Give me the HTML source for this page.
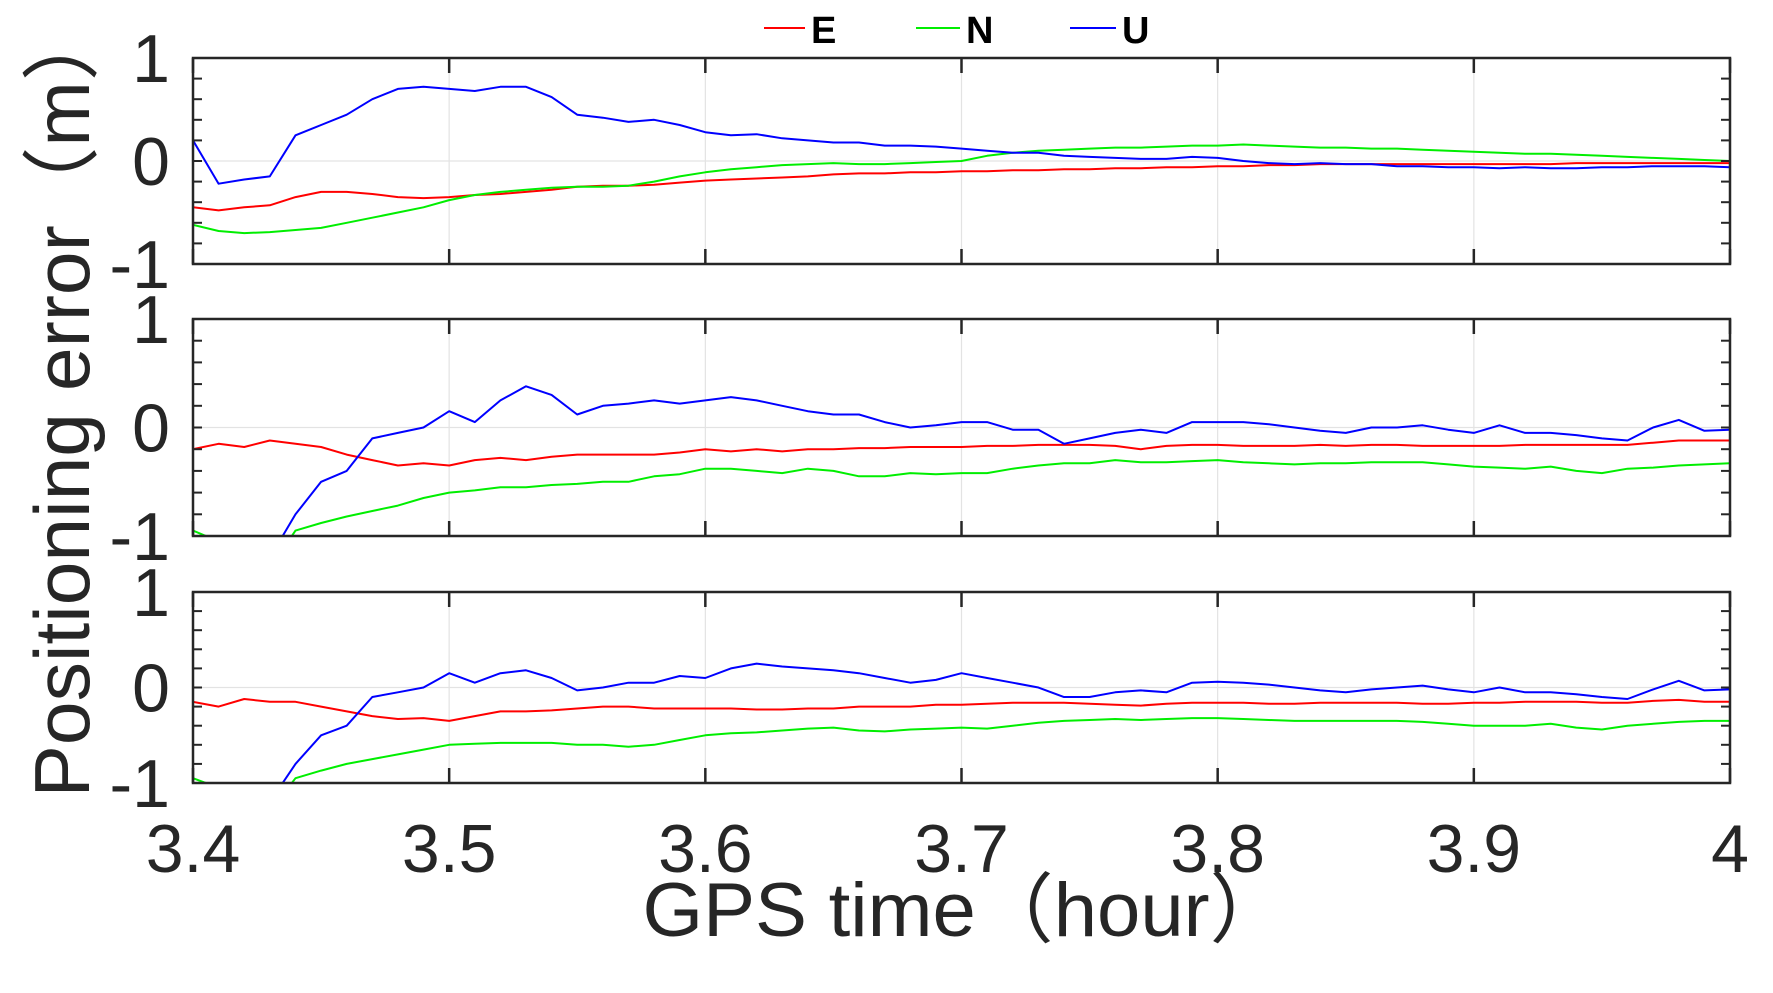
<!DOCTYPE html>
<html><head><meta charset="utf-8">
<style>
html,body{margin:0;padding:0;background:#fff;}
svg{display:block;font-family:"Liberation Sans","Noto Sans CJK SC",sans-serif;}
</style></head>
<body>
<svg id="chart" width="1773" height="993" viewBox="0 0 1773 993" xmlns="http://www.w3.org/2000/svg">
<g id="legend">
  <g><line x1="764" y1="28" x2="805" y2="28" stroke="#ff0000" stroke-width="2"/><text x="811" y="43" font-size="38" font-weight="bold" fill="#000">E</text></g>
  <g><line x1="916" y1="28" x2="960" y2="28" stroke="#00ee00" stroke-width="2"/><text x="966" y="43" font-size="38" font-weight="bold" fill="#000">N</text></g>
  <g><line x1="1070" y1="28" x2="1116" y2="28" stroke="#0000ff" stroke-width="2"/><text x="1122" y="43" font-size="38" font-weight="bold" fill="#000">U</text></g>
</g>
<text transform="translate(89,400) rotate(-90)" text-anchor="middle" font-size="78" fill="#262626" textLength="795" lengthAdjust="spacingAndGlyphs">Positioning error（m）</text>
<text x="965" y="936" text-anchor="middle" font-size="76" fill="#262626" textLength="645" lengthAdjust="spacingAndGlyphs">GPS time（hour）</text>
</svg>
<script>
const xTicks = [3.4, 3.5, 3.6, 3.7, 3.8, 3.9, 4.0];
const xTickLabels = ["3.4", "3.5", "3.6", "3.7", "3.8", "3.9", "4"];
const yTickLabels = ["1", "0", "-1"];
const xStart = 3.4, xStep = 0.01;
// Panel 1
const p1E = [-0.45,-0.48,-0.45,-0.43,-0.35,-0.3,-0.3,-0.32,-0.35,-0.36,-0.35,-0.33,-0.32,-0.3,-0.28,-0.25,-0.24,-0.24,-0.23,-0.21,-0.19,-0.18,-0.17,-0.16,-0.15,-0.13,-0.12,-0.12,-0.11,-0.11,-0.1,-0.1,-0.09,-0.09,-0.08,-0.08,-0.07,-0.07,-0.06,-0.06,-0.05,-0.05,-0.04,-0.04,-0.03,-0.03,-0.03,-0.03,-0.03,-0.03,-0.03,-0.03,-0.03,-0.03,-0.02,-0.02,-0.02,-0.02,-0.02,-0.02,-0.02];
const p1N = [-0.62,-0.68,-0.7,-0.69,-0.67,-0.65,-0.6,-0.55,-0.5,-0.45,-0.38,-0.33,-0.3,-0.28,-0.26,-0.25,-0.25,-0.24,-0.2,-0.15,-0.11,-0.08,-0.06,-0.04,-0.03,-0.02,-0.03,-0.03,-0.02,-0.01,0.0,0.05,0.08,0.1,0.11,0.12,0.13,0.13,0.14,0.15,0.15,0.16,0.15,0.14,0.13,0.13,0.12,0.12,0.11,0.1,0.09,0.08,0.07,0.07,0.06,0.05,0.04,0.03,0.02,0.01,0.0];
const p1U = [0.2,-0.22,-0.18,-0.15,0.25,0.35,0.45,0.6,0.7,0.72,0.7,0.68,0.72,0.72,0.62,0.45,0.42,0.38,0.4,0.35,0.28,0.25,0.26,0.22,0.2,0.18,0.18,0.15,0.15,0.14,0.12,0.1,0.08,0.08,0.05,0.04,0.03,0.02,0.02,0.04,0.03,0.0,-0.02,-0.03,-0.02,-0.03,-0.03,-0.05,-0.05,-0.06,-0.06,-0.07,-0.06,-0.07,-0.07,-0.06,-0.06,-0.05,-0.05,-0.05,-0.06];
// Panel 2
const p2E = [-0.2,-0.15,-0.18,-0.12,-0.15,-0.18,-0.25,-0.3,-0.35,-0.33,-0.35,-0.3,-0.28,-0.3,-0.27,-0.25,-0.25,-0.25,-0.25,-0.23,-0.2,-0.22,-0.2,-0.22,-0.2,-0.2,-0.19,-0.19,-0.18,-0.18,-0.18,-0.17,-0.17,-0.16,-0.16,-0.16,-0.17,-0.2,-0.17,-0.16,-0.16,-0.17,-0.17,-0.17,-0.16,-0.17,-0.16,-0.16,-0.17,-0.17,-0.17,-0.17,-0.16,-0.16,-0.16,-0.16,-0.16,-0.14,-0.12,-0.12,-0.12];
const p2N = [-0.95,-1.05,-1.2,-1.3,-0.95,-0.88,-0.82,-0.77,-0.72,-0.65,-0.6,-0.58,-0.55,-0.55,-0.53,-0.52,-0.5,-0.5,-0.45,-0.43,-0.38,-0.38,-0.4,-0.42,-0.38,-0.4,-0.45,-0.45,-0.42,-0.43,-0.42,-0.42,-0.38,-0.35,-0.33,-0.33,-0.3,-0.32,-0.32,-0.31,-0.3,-0.32,-0.33,-0.34,-0.33,-0.33,-0.32,-0.32,-0.32,-0.34,-0.36,-0.37,-0.38,-0.36,-0.4,-0.42,-0.38,-0.37,-0.35,-0.34,-0.33];
const p2U = [-1.5,-1.5,-1.5,-1.2,-0.8,-0.5,-0.4,-0.1,-0.05,0.0,0.15,0.05,0.25,0.38,0.3,0.12,0.2,0.22,0.25,0.22,0.25,0.28,0.25,0.2,0.15,0.12,0.12,0.05,0.0,0.02,0.05,0.05,-0.02,-0.02,-0.15,-0.1,-0.05,-0.02,-0.05,0.05,0.05,0.05,0.03,0.0,-0.03,-0.05,0.0,0.0,0.02,-0.02,-0.05,0.02,-0.05,-0.05,-0.07,-0.1,-0.12,0.0,0.07,-0.03,-0.02];
// Panel 3
const p3E = [-0.15,-0.2,-0.12,-0.15,-0.15,-0.2,-0.25,-0.3,-0.33,-0.32,-0.35,-0.3,-0.25,-0.25,-0.24,-0.22,-0.2,-0.2,-0.22,-0.22,-0.22,-0.22,-0.23,-0.23,-0.22,-0.22,-0.2,-0.2,-0.2,-0.18,-0.18,-0.17,-0.16,-0.16,-0.16,-0.17,-0.18,-0.19,-0.17,-0.16,-0.16,-0.16,-0.17,-0.17,-0.16,-0.16,-0.16,-0.16,-0.17,-0.17,-0.16,-0.16,-0.15,-0.15,-0.15,-0.16,-0.16,-0.14,-0.13,-0.15,-0.15];
const p3N = [-0.95,-1.05,-1.2,-1.3,-0.95,-0.87,-0.8,-0.75,-0.7,-0.65,-0.6,-0.59,-0.58,-0.58,-0.58,-0.6,-0.6,-0.62,-0.6,-0.55,-0.5,-0.48,-0.47,-0.45,-0.43,-0.42,-0.45,-0.46,-0.44,-0.43,-0.42,-0.43,-0.4,-0.37,-0.35,-0.34,-0.33,-0.34,-0.33,-0.32,-0.32,-0.33,-0.34,-0.35,-0.35,-0.35,-0.35,-0.35,-0.36,-0.38,-0.4,-0.4,-0.4,-0.38,-0.42,-0.44,-0.4,-0.38,-0.36,-0.35,-0.35];
const p3U = [-1.5,-1.5,-1.5,-1.2,-0.8,-0.5,-0.4,-0.1,-0.05,0.0,0.15,0.05,0.15,0.18,0.1,-0.03,0.0,0.05,0.05,0.12,0.1,0.2,0.25,0.22,0.2,0.18,0.15,0.1,0.05,0.08,0.15,0.1,0.05,0.0,-0.1,-0.1,-0.05,-0.03,-0.05,0.05,0.06,0.05,0.03,0.0,-0.03,-0.05,-0.02,0.0,0.02,-0.02,-0.05,0.0,-0.05,-0.05,-0.07,-0.1,-0.12,-0.02,0.07,-0.03,-0.02];

const panels = [
  {name:"panel-1", top:58, bottom:264, E:p1E, N:p1N, U:p1U},
  {name:"panel-2", top:319, bottom:536, E:p2E, N:p2N, U:p2U},
  {name:"panel-3", top:592, bottom:783, E:p3E, N:p3N, U:p3U}
];
const L = 193, R = 1730;
const NS = "http://www.w3.org/2000/svg";
const svg = document.getElementById('chart');
function xScale(v){ return L + (v - 3.4) / 0.6 * (R - L); }
function mk(tag, attrs, parent){ const e = document.createElementNS(NS, tag); for (const k in attrs) e.setAttribute(k, attrs[k]); parent.appendChild(e); return e; }
const colors = {E:"#ff0000", N:"#00ee00", U:"#0000ff"};

panels.forEach((p, pi) => {
  const yScale = v => p.top + (1 - v) / 2 * (p.bottom - p.top);
  const g = mk('g', {}, svg);
  
  
  const clipId = 'clip' + pi;
  const cp = mk('clipPath', {id: clipId}, g);
  mk('rect', {x: L, y: p.top, width: R - L, height: p.bottom - p.top}, cp);
  xTicks.forEach(t => {
    const gl = mk('line', {x1: xScale(t), x2: xScale(t), y1: p.top, y2: p.bottom, stroke: "#e3e3e3", "stroke-width": 1.2}, g);
    
    
  });
  const zl = mk('line', {x1: L, x2: R, y1: yScale(0), y2: yScale(0), stroke: "#e3e3e3", "stroke-width": 1.2}, g);
  
  
  ["E", "N", "U"].forEach(s => {
    const pts = p[s].map((v, i) => xScale(xStart + i * xStep).toFixed(1) + "," + yScale(v).toFixed(1)).join(" ");
    const pl = mk('polyline', {points: pts, fill: "none", stroke: colors[s], "stroke-width": 2, "clip-path": "url(#" + clipId + ")", "stroke-linejoin": "round"}, g);
    
    
  });
  for (let k = -4; k <= 4; k++) {
    const v = k * 0.2, y = yScale(v);
    mk('line', {x1: L, x2: L + 9, y1: y, y2: y, stroke: "#262626", "stroke-width": 2}, g);
    mk('line', {x1: R, x2: R - 9, y1: y, y2: y, stroke: "#262626", "stroke-width": 2}, g);
  }
  xTicks.forEach(t => {
    const x = xScale(t);
    mk('line', {x1: x, x2: x, y1: p.top, y2: p.top + 15, stroke: "#262626", "stroke-width": 2.5}, g);
    mk('line', {x1: x, x2: x, y1: p.bottom, y2: p.bottom - 15, stroke: "#262626", "stroke-width": 2.5}, g);
  });
  const frame = mk('rect', {x: L, y: p.top, width: R - L, height: p.bottom - p.top, fill: "none", stroke: "#262626", "stroke-width": 2.5}, g);
  
  
  [1, 0, -1].forEach((v, i) => {
    const t = mk('text', {x: 170, y: yScale(v) + 24, "text-anchor": "end", "font-size": 68, fill: "#262626"}, g);
    
    
    t.textContent = yTickLabels[i];
  });
});
xTicks.forEach((t, i) => {
  const tx = mk('text', {x: xScale(t), y: 872, "text-anchor": "middle", "font-size": 68, fill: "#262626"}, svg);
  
  
  tx.textContent = xTickLabels[i];
});
</script>
</body></html>
